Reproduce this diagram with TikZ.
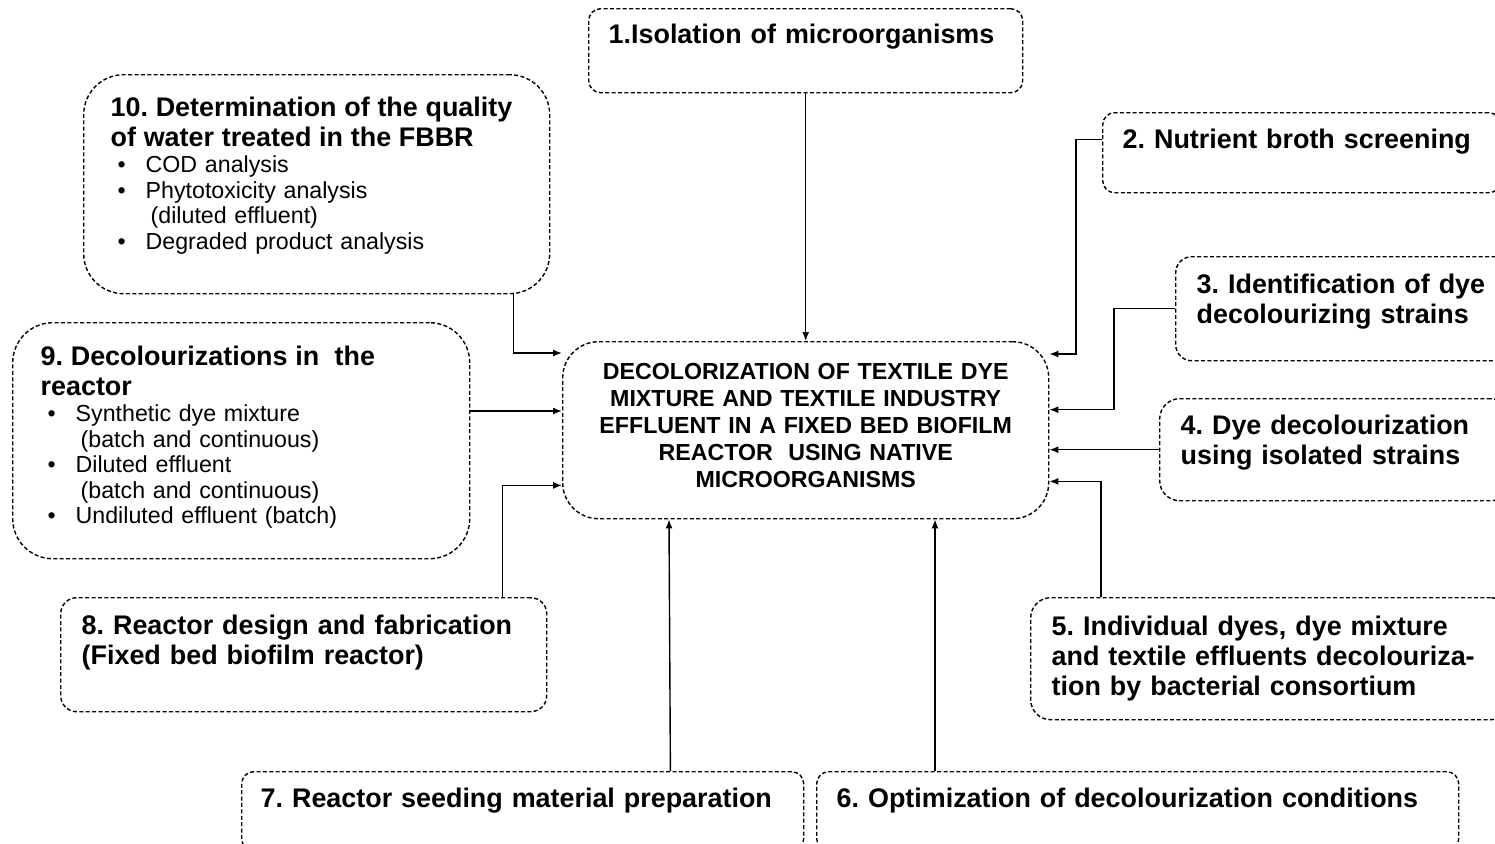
\documentclass[tikz,border=0pt]{standalone}
\usepackage{fontspec}
\setmainfont{Liberation Sans}
\usetikzlibrary{arrows.meta}
\frenchspacing

\newcommand\ttl{\fontsize{13.45}{15}\selectfont\bfseries}
\newcommand\sml{\fontsize{11.6}{12.75}\selectfont}
\newcommand\itm{\hspace*{3.5pt}\makebox[14pt][l]{\textbullet}}
\newcommand\cont{\hspace*{20pt}}

\begin{document}
\begin{tikzpicture}[x=0.5pt, y=-0.5pt,
    stage/.style={draw, dashed, dash pattern=on 2pt off 1.2pt, line width=0.7pt,
      anchor=north west, align=left, inner ysep=0pt, rounded corners=6pt},
    arr/.style={-{Latex[length=4.5pt,width=3.5pt]}, line width=0.7pt}]
  \useasboundingbox (0,0) rectangle (1495,843);
  \clip (0,0) rectangle (1495,843);

  % centre box
  \node[stage, align=center, rounded corners=18pt, inner xsep=10pt, text width=223pt,
    text height=19pt, text depth=69.5pt, font=\fontsize{11.6}{13.5}\selectfont\bfseries] (c) at (562,341)
    {DECOLORIZATION OF TEXTILE DYE\\ MIXTURE AND TEXTILE INDUSTRY\\ EFFLUENT IN A FIXED BED BIOFILM\\
     REACTOR\ \ USING NATIVE\\ MICROORGANISMS};

  % stages
  \node[stage, inner xsep=10pt, text width=197pt, text height=17.5pt, text depth=24.5pt, font=\ttl] (s1) at (588,8)
    {1.Isolation of microorganisms};
  \node[stage, inner xsep=10pt, text width=179pt, text height=18pt, text depth=22pt, font=\ttl] (s2) at (1102,112)
    {2. Nutrient broth screening};
  \node[stage, rounded corners=8pt, inner xsep=10.5pt, text width=156.5pt, text height=18.5pt, text depth=33.5pt, font=\ttl] (s3) at (1175,256)
    {3. Identification of dye\\ decolourizing strains};
  \node[stage, rounded corners=10pt, inner xsep=10.5pt, text width=154.5pt, text height=18pt, text depth=33pt, font=\ttl] (s4) at (1159,398)
    {4. Dye decolourization\\ using isolated strains};
  \node[stage, rounded corners=10pt, inner xsep=10.5pt, text width=219pt, text height=19pt, text depth=42pt, font=\ttl] (s5) at (1030,597)
    {5. Individual dyes, dye mixture\\ and textile effluents decolouriza-\\ tion by bacterial consortium};
  \node[stage, inner xsep=10pt, text width=301pt, text height=18pt, text depth=21.5pt, font=\ttl] (s6) at (816,771)
    {6. Optimization of decolourization conditions};
  \node[stage, inner xsep=9.5pt, text width=262pt, text height=18pt, text depth=21.5pt, font=\ttl] (s7) at (241,771)
    {7. Reactor seeding material preparation};
  \node[stage, rounded corners=8pt, inner xsep=10.5pt, text width=222pt, text height=18.5pt, text depth=38.5pt, font=\ttl] (s8) at (60,597)
    {8. Reactor design and fabrication\\ (Fixed bed biofilm reactor)};
  \node[stage, rounded corners=20pt, inner xsep=14pt, text width=200.5pt, text height=21.5pt, text depth=96.5pt, font=\sml] (s9) at (12,322)
    {{\ttl 9. Decolourizations in\ \ the}\\[2.25pt]
     {\ttl reactor}\\[0.25pt]
     \itm Synthetic dye mixture\\
     \cont(batch and continuous)\\
     \itm Diluted effluent\\
     \cont(batch and continuous)\\
     \itm Undiluted effluent (batch)};
  \node[stage, rounded corners=20pt, inner xsep=13.5pt, text width=206pt, text height=21pt, text depth=88.5pt, font=\sml] (s10) at (83,74)
    {{\ttl 10. Determination of the quality}\\[2.25pt]
     {\ttl of water treated in the FBBR}\\[0.25pt]
     \itm COD analysis\\
     \itm Phytotoxicity analysis\\
     \cont(diluted effluent)\\
     \itm Degraded product analysis};

  \coordinate (y9) at (0,411);

  % connectors
  \draw[arr] (s1.south) -- (s1.south |- c.north);
  \draw[arr] ([yshift=6.5pt]s2.west) -- ++(-13pt,0) |- ([yshift=-6.5pt]c.north east);
  \draw[arr] (s3.west) -- ++(-30.5pt,0) |- ([yshift=10.25pt]c.east);
  \draw[arr] (s4.west) -- (s4.west -| c.east);
  \draw[arr] ([xshift=35.5pt]s5.north west) |- ([yshift=19pt]c.south east);
  \draw[arr] ([xshift=59.5pt]s6.north west) -- ([xshift=186.5pt]c.south west);
  \draw[arr] ([xshift=-67pt]s7.north east) -- ([xshift=53.5pt]c.south west);
  \draw[arr] ([xshift=-22.5pt]s8.north east) |- ([yshift=17pt]c.south west);
  \draw[arr] (s9.east |- y9) -- (c.west |- y9);
  \draw[arr] ([xshift=-18.5pt]s10.south east) |- ([yshift=-6pt]c.north west);
\end{tikzpicture}
\end{document}
